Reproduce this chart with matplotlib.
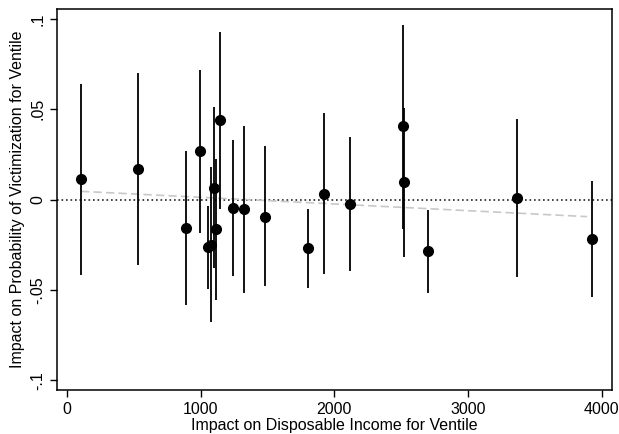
import numpy as np
import matplotlib.pyplot as plt

plt.rcParams['font.family'] = ['Liberation Sans', 'DejaVu Sans']

# ventile estimates: income impact, victimization impact, 95% CI
income = [105, 529, 890, 992, 1052, 1077, 1102, 1114, 1144, 1244,
          1327, 1484, 1805, 1922, 2119, 2516, 2518, 2703, 3366, 3924]
effect = [0.0112, 0.0169, -0.0157, 0.027, -0.0263, -0.0252, 0.0065, -0.0162, 0.044, -0.0048,
          -0.0053, -0.0094, -0.0269, 0.0031, -0.0024, 0.0405, 0.0096, -0.0287, 0.0007, -0.0219]
ci_hi = [0.0643, 0.070, 0.027, 0.072, -0.0037, 0.0182, 0.0514, 0.0226, 0.0928, 0.033,
         0.0405, 0.0298, -0.005, 0.0477, 0.0348, 0.0969, 0.051, -0.0059, 0.0446, 0.0105]
ci_lo = [-0.0416, -0.036, -0.0586, -0.0182, -0.0493, -0.068, -0.038, -0.0556, -0.005, -0.0424,
         -0.0516, -0.0479, -0.0488, -0.0414, -0.0394, -0.016, -0.0317, -0.0516, -0.0427, -0.0541]

# linear fit line endpoints
fit_x = [105, 3890]
fit_y = [0.0046, -0.0094]

xticks = [0, 1000, 2000, 3000, 4000]
yticks = [-0.1, -0.05, 0, 0.05, 0.1]
ylabels = ['-.1', '-.05', '0', '.05', '.1']

fig = plt.figure(figsize=(6.19, 4.34), dpi=100)
ax = fig.add_axes([0.092, 0.101, 0.896, 0.878])

ax.vlines(income, ci_lo, ci_hi, color='black', lw=1.3, zorder=2)
ax.plot(income, effect, 'o', color='black', ms=7, zorder=3)
ax.axhline(0, color='#222222', lw=1.2, ls=(0, (1, 1.7)), zorder=1)
ax.plot(fit_x, fit_y, color='#c8c8c8', lw=1.2, ls=(0, (5, 2.5)), zorder=1)

ax.set_xlim(-75, 4074)
ax.set_ylim(-0.1055, 0.1055)
ax.set_xticks(xticks)
ax.set_yticks(yticks)
ax.set_yticklabels(ylabels, rotation=90, va='center')
ax.tick_params(direction='out', length=5, width=1, labelsize=11.5, colors='black')
for s in ax.spines.values():
    s.set_linewidth(1.1)

ax.set_xlabel('Impact on Disposable Income for Ventile', fontsize=11.5, labelpad=1)
ax.set_ylabel('Impact on Probability of Victimization for Ventile', fontsize=11.5, labelpad=4)

fig.savefig('out.png', dpi=100)
